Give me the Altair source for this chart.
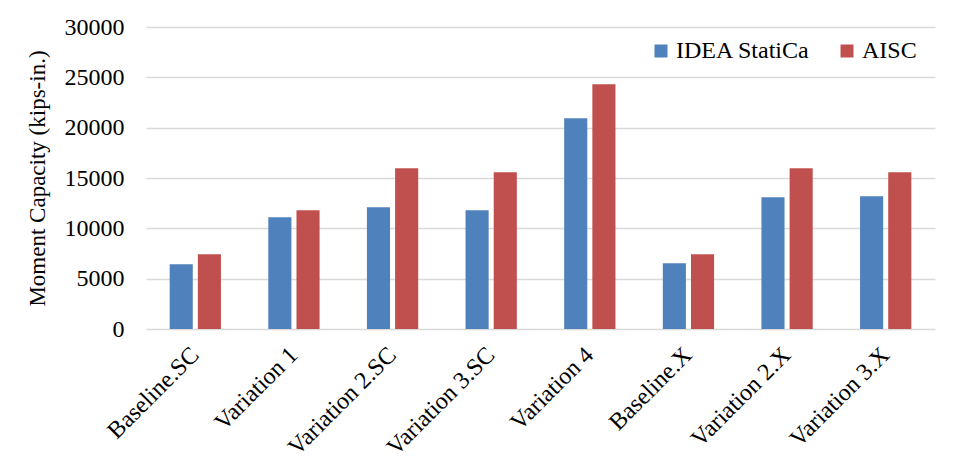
import altair as alt
import pandas as pd

categories = ["Baseline.SC", "Variation 1", "Variation 2.SC", "Variation 3.SC",
              "Variation 4", "Baseline.X", "Variation 2.X", "Variation 3.X"]
idea_statica = [6430, 11100, 12090, 11790, 20930, 6530, 13090, 13190]
aisc = [7420, 11790, 15970, 15570, 24310, 7420, 15970, 15570]
series = ["IDEA StatiCa", "AISC"]
colors = ["#4f81bd", "#c0504d"]
y_ticks = [0, 5000, 10000, 15000, 20000, 25000, 30000]

rows = []
for c, a, b in zip(categories, idea_statica, aisc):
    rows.append({"cat": c, "series": series[0], "value": a})
    rows.append({"cat": c, "series": series[1], "value": b})
df = pd.DataFrame(rows)

FONT = "Liberation Serif"
FS = 24

chart = alt.Chart(df).mark_bar().encode(
    x=alt.X("cat:N", sort=categories, title=None,
            scale=alt.Scale(paddingInner=0.48, paddingOuter=0.24),
            axis=alt.Axis(labelAngle=-45, labelAlign="right", labelBaseline="middle",
                          labelPadding=22, ticks=False, domain=False, grid=False,
                          labelFont=FONT, labelFontSize=FS, labelColor="#000000")),
    xOffset=alt.XOffset("series:N", sort=series,
                        scale=alt.Scale(paddingInner=0.18, paddingOuter=0)),
    y=alt.Y("value:Q", title="Moment Capacity (kips-in.)",
            scale=alt.Scale(domain=[0, 30000], nice=False),
            axis=alt.Axis(values=y_ticks, format="d", ticks=False, domain=False,
                          gridColor="#d9d9d9", gridWidth=1.5,
                          labelFont=FONT, labelFontSize=FS, labelColor="#000000",
                          labelPadding=22, titleFont=FONT, titleFontSize=23,
                          titleFontWeight="normal", titleColor="#000000",
                          titlePadding=15)),
    color=alt.Color("series:N", sort=series,
                    scale=alt.Scale(domain=series, range=colors),
                    legend=alt.Legend(title=None, orient="none", direction="horizontal",
                                      legendX=503, legendY=12, symbolType="square",
                                      symbolSize=169, symbolStrokeWidth=0,
                                      labelFont=FONT, labelFontSize=FS,
                                      labelColor="#000000", labelOffset=3,
                                      columnPadding=25, padding=0)),
).properties(
    width=789, height=302,
    autosize=alt.AutoSizeParams(type="none"),
    padding={"left": 138, "top": 19, "right": 17, "bottom": 140},
).configure_view(stroke=None)

chart.save("out.html", embed_options={"renderer": "svg", "actions": False})
